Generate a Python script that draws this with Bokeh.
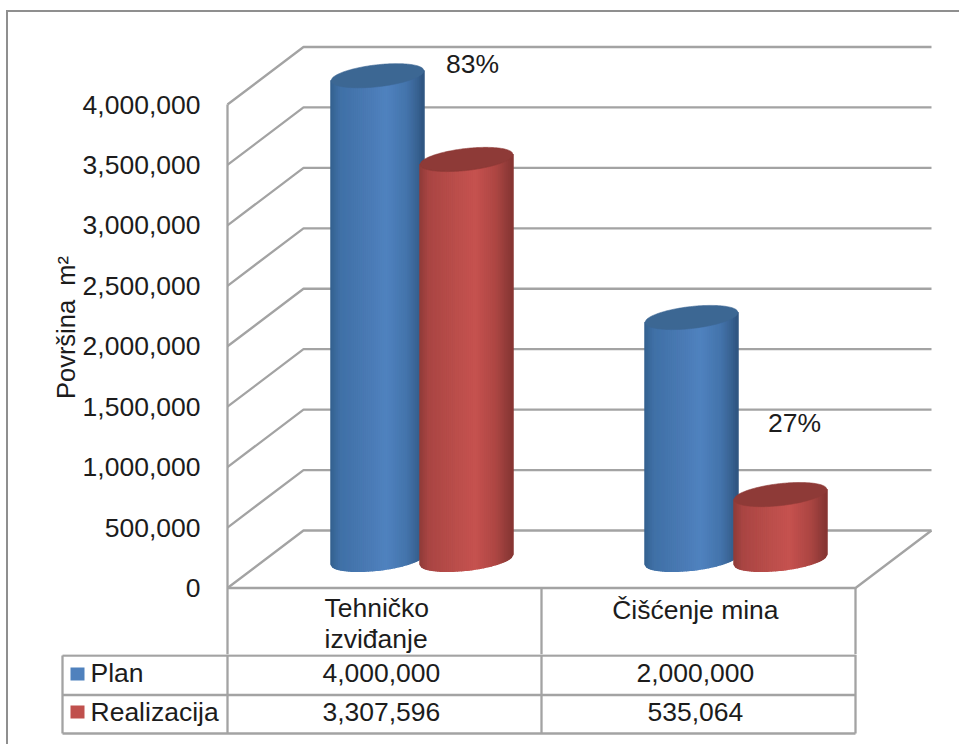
from bokeh.plotting import figure
from bokeh.layouts import column
from bokeh.models import Range1d, FixedTicker, NumeralTickFormatter, Div
from bokeh.core.properties import value
from bokeh.embed import file_html
from bokeh.resources import INLINE

# ---------- data ----------
categories = ["Tehničko\nizviđanje", "Čišćenje mina"]
series_names = ["Plan", "Realizacija"]
plan = [4000000, 2000000]
realizacija = [3307596, 535064]
percent_labels = ["83%", "27%"]
y_ticks = [0, 500000, 1000000, 1500000, 2000000, 2500000, 3000000, 3500000, 4000000]
y_title = "Površina\u00a0 m²"

# ---------- styles / layout (reference pixels) ----------
FONT = value("Liberation Sans")
TEXT = "#1c1c1c"
GRID = "#a3a3a3"
FRAME = "#8f8f8f"
FS = "26.5px"
LW = 2.3
W, H = 959, 744
SPLIT = 654                # reference y where the lower table panel starts
X0, CAT_PX = 227, 314      # x of the value axis, width of one category
Y0, VAL_PX = 587.5, 483.5 / 4000000
DEPTH_X, DEPTH_Y = 76 / CAT_PX, 57.5 / VAL_PX
RIGHT_CAT = 2.0
BAR_OFF, BAR_R = 44.5, 46.5
CAP_B, CAP_TILT = 11, 5.0

def xpx(px):
    return (px - X0) / CAT_PX

def ypx(py):
    return (Y0 - py) / VAL_PX

def lerp_color(stops, u):
    for (u0, c0), (u1, c1) in zip(stops, stops[1:]):
        if u <= u1:
            t = (u - u0) / (u1 - u0)
            rgb = [round(int(c0[i:i+2], 16) * (1 - t) + int(c1[i:i+2], 16) * t) for i in (1, 3, 5)]
            return "#%02x%02x%02x" % tuple(rgb)
    return stops[-1][1]

BLUE = [(-1, "#34608f"), (-0.8, "#3f70a6"), (-0.2, "#4a7ab4"), (0.2, "#4f82bf"),
        (0.65, "#4474ab"), (0.9, "#365f8e"), (1, "#2e5580")]
RED = [(-1, "#8f3b38"), (-0.8, "#a94543"), (-0.2, "#bb4e4b"), (0.2, "#c6524f"),
       (0.65, "#ad4643"), (0.9, "#8f3b38"), (1, "#863532")]
CAP_BLUE, CAP_RED = "#3c6793", "#8e3a37"

p = figure(width=W, height=SPLIT, output_backend="svg", toolbar_location=None,
           x_range=Range1d(xpx(225), xpx(W)),
           y_range=Range1d(ypx(SPLIT), ypx(0)),
           min_border_left=225, min_border_right=0, min_border_top=0, min_border_bottom=0,
           x_axis_location=None, outline_line_color=None, background_fill_color="white",
           border_fill_color="white", frame_align=False)
p.grid.visible = False

ax = p.yaxis[0]
ax.ticker = FixedTicker(ticks=y_ticks)
ax.formatter = NumeralTickFormatter(format="0,0")
ax.axis_line_color = None
ax.major_tick_line_color = None
ax.minor_tick_line_color = None
ax.major_label_standoff = 19
ax.major_label_text_font = "Liberation Sans"
ax.major_label_text_font_size = FS
ax.major_label_text_color = TEXT
ax.axis_label = y_title
ax.axis_label_standoff = 0
ax.axis_label_text_font = "Liberation Sans"
ax.axis_label_text_font_style = "normal"
ax.axis_label_text_font_size = "25.5px"
ax.axis_label_text_color = TEXT

# walls and floor
x_end = RIGHT_CAT + DEPTH_X
for tick in y_ticks:
    p.line([0, DEPTH_X, x_end], [tick, tick + DEPTH_Y, tick + DEPTH_Y], line_color=GRID, line_width=LW)
p.line([0, 0], [ypx(SPLIT), max(y_ticks)], line_color=GRID, line_width=LW)
p.line([0, RIGHT_CAT, x_end], [0, 0, DEPTH_Y], line_color=GRID, line_width=LW)
for cx in (1, RIGHT_CAT):
    p.line([cx, cx], [ypx(SPLIT), 0], line_color=GRID, line_width=LW)

def cylinder(center_px, val, stops, cap):
    base, top = DEPTH_Y / 2, val + DEPTH_Y / 2
    n = 47
    xs, ys, cols = [], [], []
    for i in range(n):
        u0, u1 = -1 + 2 * i / n, -1 + 2 * (i + 1) / n
        x0, x1 = center_px + BAR_R * u0, center_px + BAR_R * u1
        yb0 = base + (CAP_TILT * u0 - CAP_B * max(0, 1 - u0 * u0) ** 0.5) / VAL_PX
        yb1 = base + (CAP_TILT * u1 - CAP_B * max(0, 1 - u1 * u1) ** 0.5) / VAL_PX
        yt0 = top + CAP_TILT * u0 / VAL_PX
        yt1 = top + CAP_TILT * u1 / VAL_PX
        xs.append([xpx(x0), xpx(x1), xpx(x1), xpx(x0)])
        ys.append([yb0, yb1, yt1, yt0])
        cols.append(lerp_color(stops, (u0 + u1) / 2))
    p.patches(xs, ys, fill_color=cols, line_color=cols, line_width=1.5)
    m = 80
    us = [-1 + 2 * i / m for i in range(m + 1)]
    cx = [xpx(center_px + BAR_R * u) for u in us] + [xpx(center_px + BAR_R * u) for u in reversed(us)]
    cy = [top + (CAP_TILT * u + CAP_B * max(0, 1 - u * u) ** 0.5) / VAL_PX for u in us] + \
         [top + (CAP_TILT * u - CAP_B * max(0, 1 - u * u) ** 0.5) / VAL_PX for u in reversed(us)]
    p.patch(cx, cy, fill_color=cap, line_color=cap, line_width=0.6)

for i in range(len(categories)):
    group_px = X0 + CAT_PX * (i + 0.5) + DEPTH_X * CAT_PX / 2 - 0.5
    cylinder(group_px - BAR_OFF, plan[i], BLUE, CAP_BLUE)
    cylinder(group_px + BAR_OFF, realizacija[i], RED, CAP_RED)

# percent labels
PCT_POS = [(472, 63), (794, 422)]
p.text([xpx(a) for a, _ in PCT_POS], [ypx(b) for _, b in PCT_POS], text=percent_labels,
       text_font=FONT, text_font_size=FS, text_color=TEXT, text_align="center", text_baseline="middle")

# category labels (first table row)
p.text([xpx(324)], [ypx(623)], text=[categories[0]], text_font=FONT, text_font_size=FS, text_color=TEXT,
       text_align="left", text_baseline="middle", text_line_height=1.05)
p.text([1.49], [ypx(609)], text=[categories[1]], text_font=FONT, text_font_size=FS, text_color=TEXT,
       text_align="center", text_baseline="middle")

# ---------- data table panel ----------
t = figure(width=W, height=H - SPLIT, output_backend="svg", toolbar_location=None,
           x_range=Range1d(xpx(0), xpx(W)), y_range=Range1d(H, SPLIT),
           min_border=0, x_axis_location=None, y_axis_location=None, outline_line_color=None,
           background_fill_color="white", border_fill_color="white", frame_align=False)
t.grid.visible = False
ROW_TOP, ROW_1, ROW_2 = 655, 694.5, 733
TABLE_LEFT = 62
for cx in (0, 1, RIGHT_CAT):
    t.line([cx, cx], [SPLIT, ROW_2], line_color=GRID, line_width=LW)
t.line([xpx(TABLE_LEFT)] * 2, [ROW_TOP, ROW_2], line_color=GRID, line_width=LW)
for ry in (ROW_TOP, ROW_1, ROW_2):
    t.line([xpx(TABLE_LEFT), RIGHT_CAT], [ry, ry], line_color=GRID, line_width=LW)

# legend keys
t.quad(left=[xpx(70)] * 2, right=[xpx(84)] * 2, top=[667, 705], bottom=[680, 718],
       fill_color=["#4f81bd", "#c0504d"], line_color=None)
t.text([xpx(90)] * 2, [672, 711], text=series_names, text_font=FONT, text_font_size=FS,
       text_color=TEXT, text_baseline="middle")

# value rows
centers = [0.49, 1.49]
t.text(centers, [672] * 2, text=[f"{v:,}" for v in plan], text_font=FONT, text_font_size=FS,
       text_color=TEXT, text_align="center", text_baseline="middle")
t.text(centers, [711] * 2, text=[f"{v:,}" for v in realizacija], text_font=FONT, text_font_size=FS,
       text_color=TEXT, text_align="center", text_baseline="middle")

# outer frame: left and top edge, laid over both panels
frame = Div(text="", width=W - 6, height=H - 10, margin=0,
            styles={"position": "absolute", "left": "6px", "top": "10px", "box-sizing": "border-box",
                    "border-left": "2px solid " + FRAME, "border-top": "2px solid " + FRAME,
                    "pointer-events": "none"})

layout = column(p, t, frame, spacing=0, styles={"position": "relative"})
open("out.html", "w").write(file_html(layout, INLINE))
